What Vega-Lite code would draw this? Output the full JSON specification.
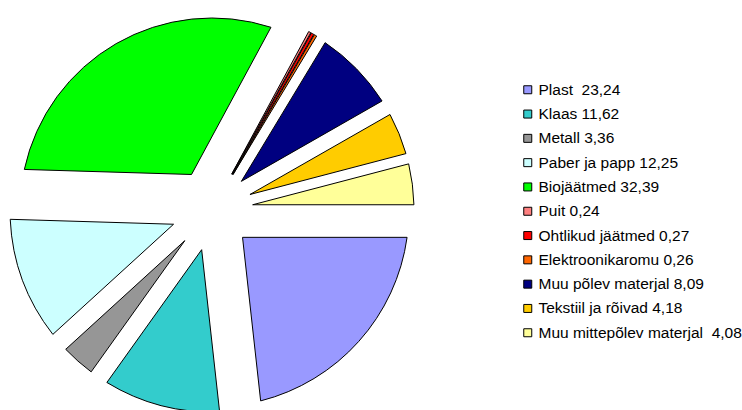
{
  "$schema": "https://vega.github.io/schema/vega-lite/v6.json",
  "width": 424,
  "height": 410,
  "padding": {"left": 0, "top": 5, "right": 0, "bottom": 0},
  "autosize": {"type": "pad"},
  "background": "white",
  "config": {"view": {"stroke": null}, "font": "Liberation Sans"},
  "data": {
    "values": [
      {"jrk": 1, "silt": "Plast \u00a023,24", "osakaal": 23.24},
      {"jrk": 2, "silt": "Klaas 11,62", "osakaal": 11.62},
      {"jrk": 3, "silt": "Metall 3,36", "osakaal": 3.36},
      {"jrk": 4, "silt": "Paber ja papp 12,25", "osakaal": 12.25},
      {"jrk": 5, "silt": "Biojäätmed 32,39", "osakaal": 32.39},
      {"jrk": 6, "silt": "Puit 0,24", "osakaal": 0.24},
      {"jrk": 7, "silt": "Ohtlikud jäätmed 0,27", "osakaal": 0.27},
      {"jrk": 8, "silt": "Elektroonikaromu 0,26", "osakaal": 0.26},
      {"jrk": 9, "silt": "Muu põlev materjal 8,09", "osakaal": 8.09},
      {"jrk": 10, "silt": "Tekstiil ja rõivad 4,18", "osakaal": 4.18},
      {"jrk": 11, "silt": "Muu mittepõlev materjal \u00a04,08", "osakaal": 4.08}
    ]
  },
  "transform": [
    {"stack": "osakaal", "groupby": [], "sort": [{"field": "jrk", "order": "ascending"}], "as": ["algus", "lopp"]}
  ],
  "encoding": {
    "theta": {"field": "algus", "type": "quantitative", "stack": null, "scale": {"domain": [0, 99.98], "range": [1.5708, 7.854]}},
    "theta2": {"field": "lopp"},
    "color": {
      "field": "silt",
      "type": "nominal",
      "scale": {
        "domain": ["Plast \u00a023,24", "Klaas 11,62", "Metall 3,36", "Paber ja papp 12,25", "Biojäätmed 32,39", "Puit 0,24", "Ohtlikud jäätmed 0,27", "Elektroonikaromu 0,26", "Muu põlev materjal 8,09", "Tekstiil ja rõivad 4,18", "Muu mittepõlev materjal \u00a04,08"],
        "range": ["#9999FF", "#33CCCC", "#969696", "#CCFFFF", "#00FF00", "#FF8080", "#FF0000", "#FF6600", "#000080", "#FFCC00", "#FFFF99"]
      },
      "legend": {
        "title": null,
        "orient": "none",
        "legendX": 520,
        "legendY": 77,
        "symbolType": "square",
        "symbolSize": 64,
        "symbolStrokeColor": "black",
        "symbolStrokeWidth": 1,
        "labelFontSize": 15.5,
        "labelFont": "Liberation Sans",
        "labelColor": "black",
        "labelOffset": 3,
        "rowPadding": 7.3,
        "labelLimit": 300
      }
    }
  },
  "layer": [
    {"transform": [{"filter": "datum.jrk == 1"}], "mark": {"type": "arc", "innerRadius": 41, "outerRadius": 197, "padAngle": 0.2726, "stroke": "black", "strokeWidth": 1}},
    {"transform": [{"filter": "datum.jrk == 2"}], "mark": {"type": "arc", "innerRadius": 41, "outerRadius": 202, "padAngle": 0.1422, "stroke": "black", "strokeWidth": 1}},
    {"transform": [{"filter": "datum.jrk == 3"}], "mark": {"type": "arc", "innerRadius": 41, "outerRadius": 202, "padAngle": 0.0419, "stroke": "black", "strokeWidth": 1}},
    {"transform": [{"filter": "datum.jrk == 4"}], "mark": {"type": "arc", "innerRadius": 41, "outerRadius": 202, "padAngle": 0.1495, "stroke": "black", "strokeWidth": 1}},
    {"transform": [{"filter": "datum.jrk == 5"}], "mark": {"type": "arc", "innerRadius": 41, "outerRadius": 192, "padAngle": 0.3572, "stroke": "black", "strokeWidth": 1}},
    {"transform": [{"filter": "datum.jrk >= 6 && datum.jrk <= 8"}], "mark": {"type": "arc", "innerRadius": 41, "outerRadius": 203, "padAngle": 0.0032, "stroke": "black", "strokeWidth": 1}},
    {"transform": [{"filter": "datum.jrk == 9"}], "mark": {"type": "arc", "innerRadius": 41, "outerRadius": 202, "padAngle": 0.1001, "stroke": "black", "strokeWidth": 1}},
    {"transform": [{"filter": "datum.jrk == 10"}], "mark": {"type": "arc", "innerRadius": 41, "outerRadius": 202, "padAngle": 0.0521, "stroke": "black", "strokeWidth": 1}},
    {"transform": [{"filter": "datum.jrk == 11"}], "mark": {"type": "arc", "innerRadius": 41, "outerRadius": 202, "padAngle": 0.0509, "stroke": "black", "strokeWidth": 1}}
  ]
}
